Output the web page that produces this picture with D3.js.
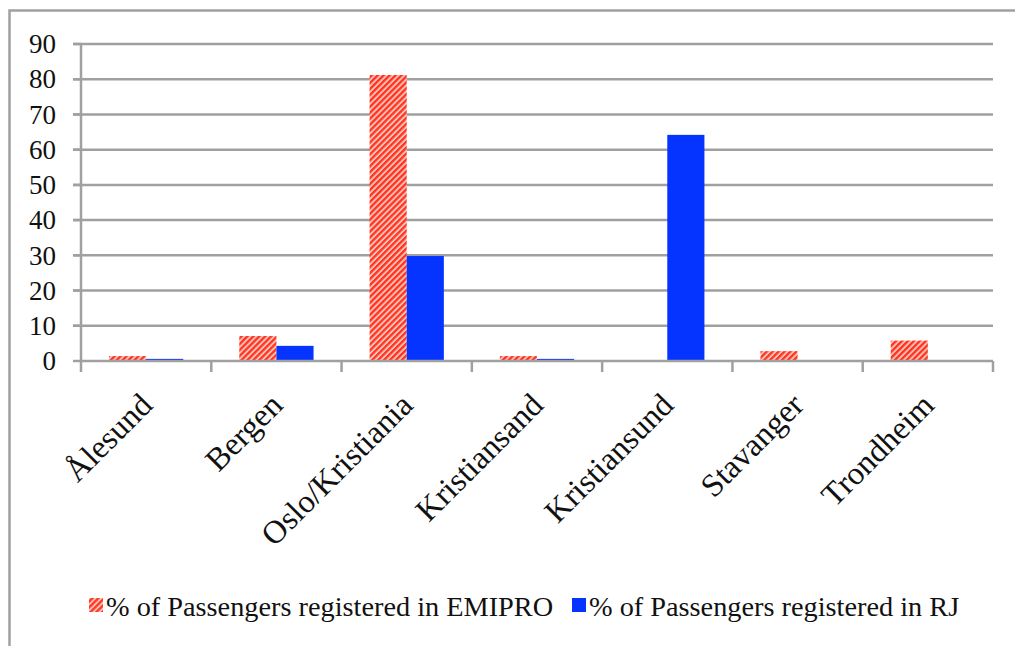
<!DOCTYPE html>
<html>
<head>
<meta charset="utf-8">
<script src="https://cdn.jsdelivr.net/npm/d3@7"></script>
<style>
  body { margin: 0; background: #fff; }
  svg text { font-family: "Liberation Serif", "Times New Roman", serif; fill: #111; }
</style>
</head>
<body>
<div id="chart"></div>
<script>
// ports / categories
var cities = ["Ålesund", "Bergen", "Oslo/Kristiania", "Kristiansand", "Kristiansund", "Stavanger", "Trondheim"]
// % of passengers per source
var emipro = [1.4, 7.1, 81.2, 1.4, 0, 2.8, 5.8]
var rj = [0.6, 4.3, 29.8, 0.6, 64.2, 0, 0]
var yTicks = [0, 10, 20, 30, 40, 50, 60, 70, 80, 90]
var seriesNames = ["% of Passengers registered in EMIPRO", "% of Passengers registered in RJ"]

var width = 1015, height = 646
var svg = d3.select("#chart").append("svg").attr("width", width).attr("height", height)

var defs = svg.append("defs")
var pat = defs.append("pattern").attr("id", "hatch").attr("patternUnits", "userSpaceOnUse")
    .attr("width", 4.2).attr("height", 4.2).attr("patternTransform", "rotate(45)")
pat.append("rect").attr("width", 4.2).attr("height", 4.2).attr("fill", "#ffc2b8")
pat.append("rect").attr("width", 2.3).attr("height", 4.2).attr("fill", "#ff3420")

// outer frame (cropped on the right and bottom)
svg.append("path").attr("d", "M9.5,646 L9.5,10.5 L1015,10.5")
    .attr("fill", "none").attr("stroke", "#a0a0a0").attr("stroke-width", 2.5)

var x0 = 81, x1 = 993
var x = d3.scaleBand().domain(cities).range([x0, x1]).paddingInner(0.43).paddingOuter(0.215)
var y = d3.scaleLinear().domain([0, 90]).range([361, 44])
var step = (x1 - x0) / cities.length
var bw = x.bandwidth() / 2

// gridlines
svg.append("g").selectAll("line").data(yTicks.slice(1)).enter().append("line")
    .attr("x1", 73).attr("x2", x1).attr("y1", d => y(d)).attr("y2", d => y(d))
    .attr("stroke", "#a0a0a0").attr("stroke-width", 2.5)

// bars
var g = svg.append("g")
g.selectAll(".b1").data(emipro).enter().append("rect")
    .attr("x", (d, i) => x(cities[i])).attr("width", bw)
    .attr("y", d => y(d)).attr("height", d => y(0) - y(d))
    .attr("fill", "url(#hatch)")
g.selectAll(".b2").data(rj).enter().append("rect")
    .attr("x", (d, i) => x(cities[i]) + bw).attr("width", bw)
    .attr("y", d => y(d)).attr("height", d => y(0) - y(d))
    .attr("fill", "#0533ff")

// y axis
var yAxis = svg.append("g")
yAxis.append("line").attr("x1", x0).attr("x2", x0).attr("y1", y(90) - 1).attr("y2", y(0))
    .attr("stroke", "#a0a0a0").attr("stroke-width", 2.5)
yAxis.selectAll(".tk").data(yTicks).enter().append("line")
    .attr("x1", 73).attr("x2", x0).attr("y1", d => y(d)).attr("y2", d => y(d))
    .attr("stroke", "#a0a0a0").attr("stroke-width", 2.5)
yAxis.selectAll("text").data(yTicks).enter().append("text")
    .attr("x", 56).attr("y", d => y(d)).attr("dy", "0.34em")
    .attr("text-anchor", "end").style("font-size", "27px").text(d => d)

// x axis
var xAxis = svg.append("g")
xAxis.append("line").attr("x1", x0).attr("x2", x1).attr("y1", y(0)).attr("y2", y(0))
    .attr("stroke", "#a0a0a0").attr("stroke-width", 2.5)
xAxis.selectAll(".tk").data(d3.range(cities.length + 1)).enter().append("line")
    .attr("x1", i => x0 + i * step).attr("x2", i => x0 + i * step)
    .attr("y1", y(0)).attr("y2", y(0) + 11)
    .attr("stroke", "#a0a0a0").attr("stroke-width", 2.5)
xAxis.selectAll("text").data(cities).enter().append("text")
    .attr("transform", d => `translate(${x(d) + x.bandwidth() / 2 + 8},${y(0) + 46}) rotate(-45)`)
    .attr("text-anchor", "end").style("font-size", "32.5px").text(d => d)

// legend
var leg = svg.append("g")
var legX = [89, 572]
var legFill = ["url(#hatch)", "#0533ff"]
seriesNames.forEach(function(name, i){
    leg.append("rect").attr("x", legX[i]).attr("y", 598).attr("width", 14).attr("height", 14)
        .attr("fill", legFill[i])
    leg.append("text").attr("x", legX[i] + 17).attr("y", 616)
        .style("font-size", "28.3px").text(name)
})
</script>
</body>
</html>
